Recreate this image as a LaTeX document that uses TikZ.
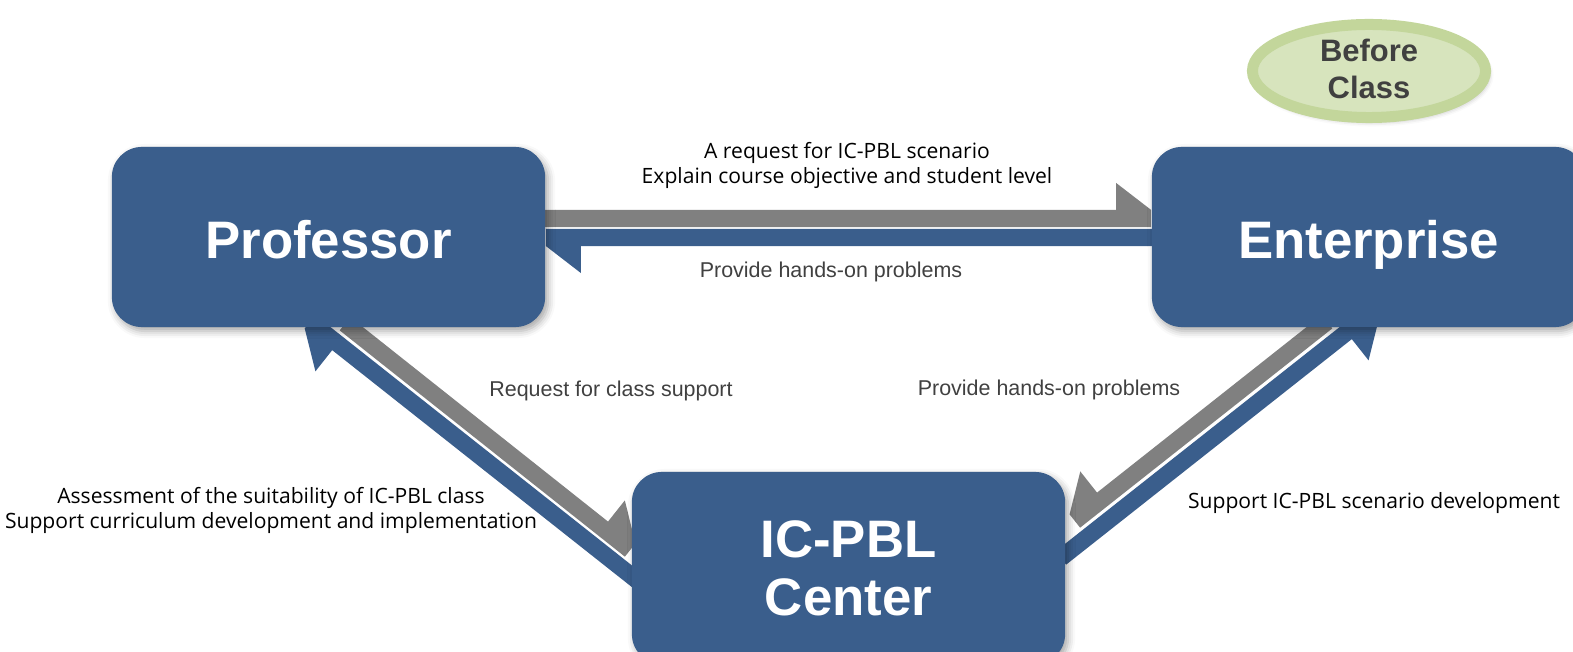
\documentclass[tikz,border=0pt]{standalone}
\usepackage{fontspec}
\setmainfont{Liberation Sans}
\newfontfamily\kfont{Open Sans}
\usetikzlibrary{calc,shapes.geometric,shadows.blur}
\definecolor{boxblue}{RGB}{58,94,140}
\definecolor{arrgray}{RGB}{128,128,128}
\definecolor{ringgreen}{RGB}{195,214,155}
\definecolor{fillgreen}{RGB}{215,228,189}
\definecolor{txtgray}{RGB}{64,64,64}
\pgfdeclarelayer{back}
\pgfsetlayers{back,main}
% bar with a half head on one side: style, from, to, side, other side
\newcommand{\halfarrow}[5]{%
  \coordinate (hc) at ($(#3)!0.35cm!(#2)$);
  \fill[#1] ($(#2)!0.085cm!#4:(#3)$) -- ($(hc)!0.085cm!#4:(#3)$)
    -- ($(hc)!0.355cm!#4:(#3)$) -- ($(#3)!0.085cm!#5:(#2)$)
    -- ($(#3)!0.085cm!#4:(#2)$) -- ($(#2)!0.085cm!#5:(#3)$) -- cycle;}

\begin{document}
\begin{tikzpicture}[x=0.01cm,y=-0.01cm,
    box/.style={fill=boxblue, rounded corners=0.3cm, minimum width=4.33cm,
      minimum height=1.8cm, text=white, align=center,
      font=\fontsize{15}{16.5}\selectfont\bfseries,
      blur shadow={shadow xshift=0.03cm, shadow yshift=-0.04cm,
        shadow blur radius=0.07cm, shadow opacity=35}},
    oneline/.style={text height=12pt, text depth=0pt},
    grayarr/.style={fill=arrgray},
    bluearr/.style={fill=boxblue},
    note/.style={text=txtgray, font=\fontsize{6.1}{7.1}\selectfont},
    knote/.style={align=center, font=\kfont\fontsize{6.0}{7.1}\selectfont}]
  \useasboundingbox (0,0) rectangle (1573,652);

  \node[box, oneline] (prof) at (328.5,237) {Professor};
  \node[box, oneline] (ent) at (1368.5,237) {Enterprise};
  \node[box, minimum height=1.92cm] (ctr) at (848.5,568) {IC-PBL\\Center};

  \node[ellipse, fill=fillgreen, draw=ringgreen, line width=0.11cm,
    minimum width=2.33cm, minimum height=0.93cm, inner sep=0pt,
    blur shadow={shadow xshift=0.03cm, shadow yshift=-0.04cm,
      shadow blur radius=0.05cm, shadow opacity=30}] (bc) at (1369,71) {};
  \node[text=txtgray, align=center, font=\fontsize{8.8}{10.5}\selectfont\bfseries]
    (bclabel) at (1369,69) {Before\\Class};

  \begin{pgfonlayer}{back}
    \coordinate (gt1) at ($(prof.east)+(-5,-18.5)$);
    \coordinate (gt2) at ($(ent.west)+(0,-18.5)$);
    \coordinate (bt1) at ($(ent.west)+(5,0.5)$);
    \coordinate (bt2) at ($(prof.east)+(0,0.5)$);
    \coordinate (gl1) at ($(prof.south)+(16.5,-4)$);
    \coordinate (gl2) at ($(ctr.west)+(-1,-18)$);
    \coordinate (bl1) at ($(ctr.west)+(8,14)$);
    \coordinate (bl2) at ($(prof.south)+(-18.5,-6)$);
    \coordinate (gr1) at ($(ent.south)+(-41.5,-6)$);
    \coordinate (gr2) at ($(ctr.east)+(9,-47)$);
    \coordinate (br1) at ($(ctr.east)+(-5,-10)$);
    \coordinate (br2) at ($(ent.south)+(5.5,-17)$);
    \halfarrow{grayarr}{gt1}{gt2}{90}{-90}
    \halfarrow{bluearr}{bt1}{bt2}{90}{-90}
    \halfarrow{grayarr}{gl1}{gl2}{90}{-90}
    \halfarrow{bluearr}{bl1}{bl2}{90}{-90}
    \halfarrow{grayarr}{gr1}{gr2}{-90}{90}
    \halfarrow{bluearr}{br1}{br2}{-90}{90}
  \end{pgfonlayer}

  \node[knote] (req) at (847,165) {A request for IC-PBL scenario\\Explain course objective and student level};
  \node[note] (prov1) at (831,272) {Provide hands-on problems};
  \node[note] (sup1) at (611,391) {Request for class support};
  \node[note] (prov2) at (1049,390) {Provide hands-on problems};
  \node[knote] (assess) at (271,510) {Assessment of the suitability of IC-PBL class\\Support curriculum development and implementation};
  \node[knote] (sup2) at (1374,503) {Support IC-PBL scenario development};
\end{tikzpicture}
\end{document}
